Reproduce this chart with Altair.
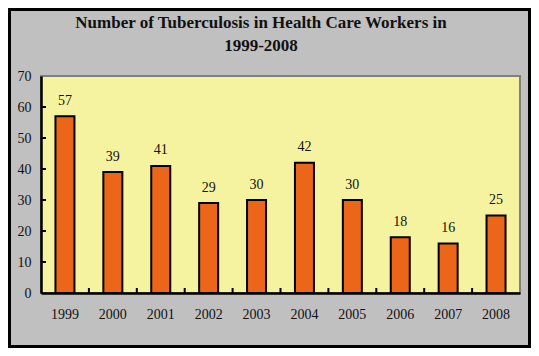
import altair as alt
import pandas as pd

title_lines = ["Number of Tuberculosis in Health Care Workers in", "1999-2008"]
years = ["1999", "2000", "2001", "2002", "2003", "2004", "2005", "2006", "2007", "2008"]
cases = [57, 39, 41, 29, 30, 42, 30, 18, 16, 25]
y_label_values = [0, 10, 20, 30, 40, 50, 60, 70]
y_tick_values = [10, 20, 30, 40, 50, 60]
x_tick_years = years[:-1]

FONT = "Liberation Serif"

df = pd.DataFrame({"year": years, "cases": cases})
ytick_df = pd.DataFrame({"cases": y_tick_values})
xtick_df = pd.DataFrame({"year": x_tick_years})
one_df = pd.DataFrame({"a": [0]})

x_scale = alt.Scale(paddingInner=0, paddingOuter=0)
x_axis = alt.Axis(
    title=None, labelAngle=0, ticks=False, tickSize=0, labelPadding=14,
    labelFont=FONT, labelFontSize=14, labelColor="#111111",
    domainColor="black", domainWidth=2.5, grid=False, zindex=1,
)
y_scale = alt.Scale(domain=[0, 70], nice=False)
y_axis = alt.Axis(
    title=None, values=y_label_values, ticks=False, tickSize=0,
    labelPadding=10, labelFont=FONT, labelFontSize=14, labelColor="#111111",
    domainColor="black", domainWidth=2.5, grid=False, zindex=1,
)

frame = alt.Chart(one_df).mark_rect(fill="transparent", stroke="black", strokeWidth=3).encode(
    x=alt.value(-31.5), x2=alt.value(488.5), y=alt.value(-66.5), y2=alt.value(270.5)
)

title = alt.Chart(one_df).mark_text(
    text=title_lines, font=FONT, fontSize=17, fontWeight="bold", color="#111111",
    align="center", baseline="alphabetic", lineHeight=23,
).encode(x=alt.value(220), y=alt.value(-48))

bars = alt.Chart(df).mark_bar(size=19, fill="#EC6619", stroke="black", strokeWidth=2).encode(
    x=alt.X("year:N", scale=x_scale, axis=x_axis),
    y=alt.Y("cases:Q", scale=y_scale, axis=y_axis),
)

labels = alt.Chart(df).mark_text(
    font=FONT, fontSize=14, color="#111111", baseline="alphabetic", dy=-11.5
).encode(
    x=alt.X("year:N", scale=x_scale, axis=x_axis),
    y=alt.Y("cases:Q", scale=y_scale, axis=y_axis),
    text="cases:Q",
)

yticks = alt.Chart(ytick_df).mark_rule(color="black", strokeWidth=2).encode(
    y=alt.Y("cases:Q", scale=y_scale, axis=y_axis),
    x=alt.value(0),
    x2=alt.value(5),
)

xticks = alt.Chart(xtick_df).mark_rule(color="black", strokeWidth=2).encode(
    x=alt.X("year:N", bandPosition=1, scale=x_scale, axis=x_axis),
    y=alt.value(217),
    y2=alt.value(212),
)

chart = (
    alt.layer(frame, title, bars, labels, yticks, xticks)
    .properties(
        width=479,
        height=217,
        autosize="none",
        padding={"left": 33, "top": 68, "right": 11, "bottom": 55},
        background="#C0C0C0",
    )
    .configure_view(fill="#F5F3A0", stroke="#808080", strokeWidth=2)
)

chart.save("out.html", embed_options={"renderer": "svg", "actions": False})
